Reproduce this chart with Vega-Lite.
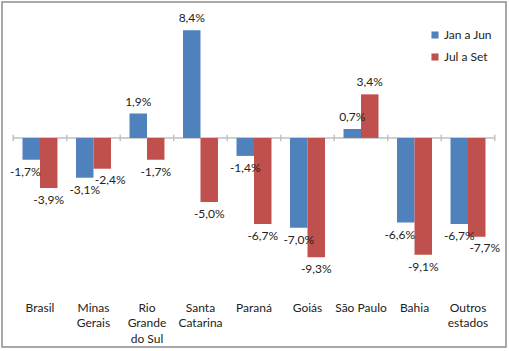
{
  "$schema": "https://vega.github.io/schema/vega-lite/v6.json",
  "width": 504,
  "height": 345,
  "padding": {"left": 2, "top": 2, "right": 3, "bottom": 4},
  "background": "white",
  "config": {
    "font": "Lato",
    "view": {"stroke": "#8c8c8c", "strokeWidth": 1.5},
    "locale": {
      "number": {"decimal": ",", "thousands": ".", "grouping": [3], "currency": ["R$", ""], "minus": "-", "percent": "%"}
    }
  },
  "data": {
    "values": [
      {"estado": "Brasil", "periodo": "Jan a Jun", "valor": -0.017},
      {"estado": "Brasil", "periodo": "Jul a Set", "valor": -0.039},
      {"estado": "Minas Gerais", "periodo": "Jan a Jun", "valor": -0.031},
      {"estado": "Minas Gerais", "periodo": "Jul a Set", "valor": -0.024},
      {"estado": "Rio Grande do Sul", "periodo": "Jan a Jun", "valor": 0.019},
      {"estado": "Rio Grande do Sul", "periodo": "Jul a Set", "valor": -0.017},
      {"estado": "Santa Catarina", "periodo": "Jan a Jun", "valor": 0.084},
      {"estado": "Santa Catarina", "periodo": "Jul a Set", "valor": -0.050},
      {"estado": "Paraná", "periodo": "Jan a Jun", "valor": -0.014},
      {"estado": "Paraná", "periodo": "Jul a Set", "valor": -0.067},
      {"estado": "Goiás", "periodo": "Jan a Jun", "valor": -0.070},
      {"estado": "Goiás", "periodo": "Jul a Set", "valor": -0.093},
      {"estado": "São Paulo", "periodo": "Jan a Jun", "valor": 0.007},
      {"estado": "São Paulo", "periodo": "Jul a Set", "valor": 0.034},
      {"estado": "Bahia", "periodo": "Jan a Jun", "valor": -0.066},
      {"estado": "Bahia", "periodo": "Jul a Set", "valor": -0.091},
      {"estado": "Outros estados", "periodo": "Jan a Jun", "valor": -0.067},
      {"estado": "Outros estados", "periodo": "Jul a Set", "valor": -0.077}
    ]
  },
  "encoding": {
    "x": {
      "field": "estado",
      "type": "nominal",
      "sort": null,
      "scale": {"paddingInner": 0, "paddingOuter": 0.21},
      "axis": {
        "title": null,
        "orient": "bottom",
        "offset": -47,
        "domain": false,
        "ticks": false,
        "labelAngle": 0,
        "labelPadding": 2,
        "labelFontSize": 12,
        "labelColor": "#222222",
        "labelLineHeight": 15.5,
        "labelBaseline": "top",
        "labelExpr": "datum.value == 'Rio Grande do Sul' ? ['Rio', 'Grande', 'do Sul'] : datum.value == 'São Paulo' ? datum.value : split(datum.value, ' ')"
      }
    }
  },
  "layer": [
    {
      "mark": {"type": "rect", "stroke": "#bfbfbf", "strokeWidth": 0.6, "fill": null},
      "encoding": {
        "y": {"datum": 0, "type": "quantitative", "scale": {"domain": [-0.163, 0.106], "nice": false, "zero": false}, "axis": null},
        "y2": {"datum": 0}
      }
    },
    {
      "mark": {"type": "rule", "stroke": "#bfbfbf", "strokeWidth": 1},
      "encoding": {
        "x": {"field": "estado", "type": "nominal", "sort": null, "bandPosition": 0},
        "y": {"datum": 0.0025, "type": "quantitative"},
        "y2": {"datum": -0.0025}
      }
    },
    {
      "transform": [{"filter": "datum.estado == 'Outros estados'"}],
      "mark": {"type": "rule", "stroke": "#bfbfbf", "strokeWidth": 1},
      "encoding": {
        "x": {"field": "estado", "type": "nominal", "sort": null, "bandPosition": 1},
        "y": {"datum": 0.0025, "type": "quantitative"},
        "y2": {"datum": -0.0025}
      }
    },
    {
      "mark": {"type": "bar"},
      "encoding": {
        "xOffset": {"field": "periodo", "type": "nominal", "scale": {"paddingInner": 0, "paddingOuter": 0.53}},
        "y": {"field": "valor", "type": "quantitative"},
        "y2": {"datum": 0},
        "color": {
          "field": "periodo",
          "type": "nominal",
          "scale": {"domain": ["Jan a Jun", "Jul a Set"], "range": ["#4f81bd", "#c0504d"]},
          "legend": {
            "title": null,
            "orient": "none",
            "legendX": 427,
            "legendY": 27,
            "symbolType": "square",
            "symbolSize": 50,
            "symbolStrokeWidth": 0,
            "labelFontSize": 12,
            "labelColor": "#222222",
            "rowPadding": 10,
            "labelOffset": 3,
            "padding": 0
          }
        }
      }
    },
    {
      "transform": [{"filter": "datum.valor >= 0"}],
      "mark": {"type": "text", "baseline": "middle", "dy": -12, "fontSize": 12, "color": "#222222"},
      "encoding": {
        "xOffset": {"field": "periodo", "type": "nominal", "scale": {"paddingInner": 0, "paddingOuter": 0.53}},
        "y": {"field": "valor", "type": "quantitative"},
        "text": {"field": "valor", "type": "quantitative", "format": ".1%"}
      }
    },
    {
      "transform": [{"filter": "datum.valor < 0 && !((datum.periodo == 'Jan a Jun' && (datum.estado == 'Brasil' || datum.estado == 'Bahia')) || (datum.periodo == 'Jul a Set' && (datum.estado == 'Minas Gerais' || datum.estado == 'Outros estados')))"}],
      "mark": {"type": "text", "baseline": "middle", "dy": 12, "fontSize": 12, "color": "#222222"},
      "encoding": {
        "xOffset": {"field": "periodo", "type": "nominal", "scale": {"paddingInner": 0, "paddingOuter": 0.53}},
        "y": {"field": "valor", "type": "quantitative"},
        "text": {"field": "valor", "type": "quantitative", "format": ".1%"}
      }
    },
    {
      "transform": [{"filter": "datum.periodo == 'Jan a Jun' && (datum.estado == 'Brasil' || datum.estado == 'Bahia')"}],
      "mark": {"type": "text", "baseline": "middle", "dy": 12, "dx": -6, "fontSize": 12, "color": "#222222"},
      "encoding": {
        "xOffset": {"field": "periodo", "type": "nominal", "scale": {"paddingInner": 0, "paddingOuter": 0.53}},
        "y": {"field": "valor", "type": "quantitative"},
        "text": {"field": "valor", "type": "quantitative", "format": ".1%"}
      }
    },
    {
      "transform": [{"filter": "datum.periodo == 'Jul a Set' && (datum.estado == 'Minas Gerais' || datum.estado == 'Outros estados')"}],
      "mark": {"type": "text", "baseline": "middle", "dy": 11, "dx": 8, "fontSize": 12, "color": "#222222"},
      "encoding": {
        "xOffset": {"field": "periodo", "type": "nominal", "scale": {"paddingInner": 0, "paddingOuter": 0.53}},
        "y": {"field": "valor", "type": "quantitative"},
        "text": {"field": "valor", "type": "quantitative", "format": ".1%"}
      }
    }
  ]
}
